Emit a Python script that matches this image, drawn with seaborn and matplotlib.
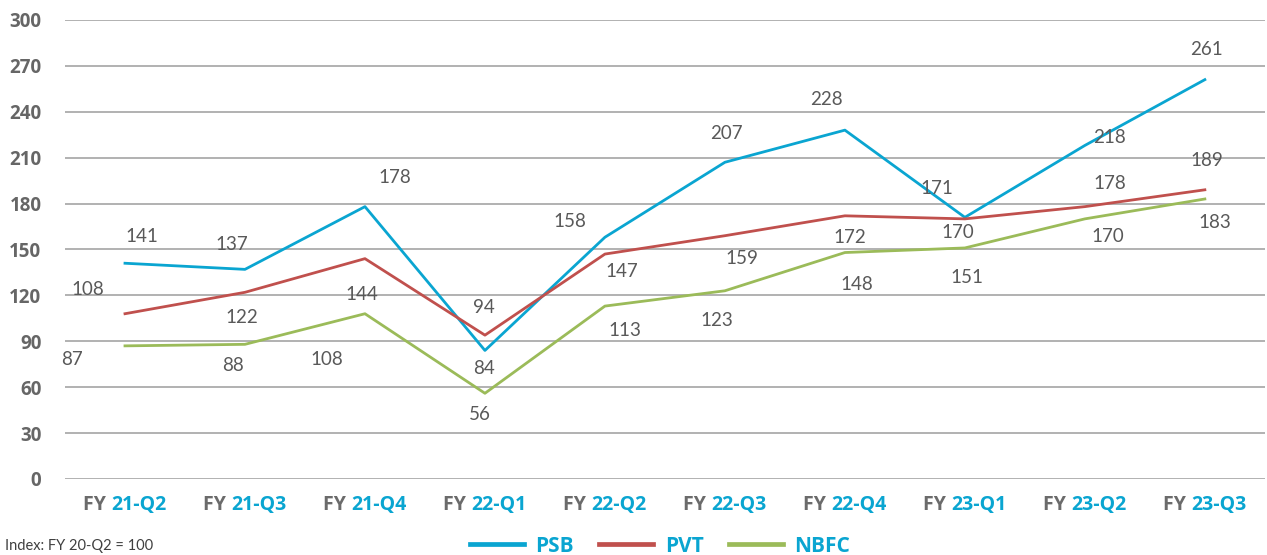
import pandas as pd
import seaborn as sns
import matplotlib.pyplot as plt
from matplotlib.offsetbox import TextArea, HPacker, AnnotationBbox

# ==================== Data ====================

quarters = ["21-Q2", "21-Q3", "21-Q4", "22-Q1", "22-Q2",
            "22-Q3", "22-Q4", "23-Q1", "23-Q2", "23-Q3"]
psb = [141, 137, 178, 84, 158, 207, 228, 171, 218, 261]
pvt = [108, 122, 144, 94, 147, 159, 172, 170, 178, 189]
nbfc = [87, 88, 108, 56, 113, 123, 148, 151, 170, 183]
series_names = ["PSB", "PVT", "NBFC"]

df = pd.DataFrame({"quarter": quarters * 3,
                   "value": psb + pvt + nbfc,
                   "segment": [s for s in series_names for _ in quarters]})

# label offsets in pixels (dx, dy) - mimic Excel placement
offsets = {
    "PSB": [(17, 27), (-13, 25), (30, 29), (-1, -18), (-35, 16),
            (2, 29), (-18, 31), (-28, 29), (25, 8), (2, 30)],
    "PVT": [(-37, 24), (-3, -25), (-3, -36), (-1, 28), (17, -17),
            (17, -23), (5, -22), (-7, -14), (25, 23), (2, 29)],
    "NBFC": [(-53, -14), (-12, -21), (-38, -46), (-5, -21), (20, -24),
             (-8, -30), (12, -32), (2, -30), (23, -18), (10, -24)],
}

colors = {"PSB": "#0AA5D1", "PVT": "#C0504D", "NBFC": "#9BBB59"}
grey = "#595959"
plt.rcParams["font.family"] = ["Lato", "DejaVu Sans"]
bold_font = ["Open Sans", "DejaVu Sans"]

# ==================== Plot ====================

fig = plt.figure(figsize=(12.67, 5.55), dpi=100)
ax = fig.add_axes([0.0513, 0.137, 0.947, 0.827])

sns.lineplot(df, x="quarter", y="value", hue="segment", palette=colors,
             sort=False, linewidth=2.0, ax=ax, legend=True)

ax.set_ylim(0, 300)
ax.set_xlim(-0.5, len(quarters) - 0.5)
ax.set_yticks(range(0, 301, 30))
ax.grid(axis="y", color="#ABABAB", linewidth=1.3)
ax.set_axisbelow(True)
for s in ax.spines.values():
    s.set_visible(False)
ax.set_xlabel("")
ax.set_ylabel("")
ax.tick_params(axis="y", length=0, pad=17, labelsize=13.5, labelcolor="#666666")
for t in ax.get_yticklabels():
    t.set_fontweight("bold")
    t.set_family(bold_font)
ax.tick_params(axis="x", length=0)
ax.set_xticklabels([])

# two-coloured x tick labels
for q in quarters:
    box = HPacker(children=[
        TextArea("FY ", textprops=dict(color="#6B6B6B", fontsize=14, fontweight="bold",
                                       family=bold_font)),
        TextArea(q, textprops=dict(color="#0AA5D1", fontsize=14, fontweight="bold",
                                   family=bold_font)),
    ], pad=0, sep=0, align="baseline")
    ab = AnnotationBbox(box, (q, 0), xybox=(0, -16), xycoords=("data", "axes fraction"),
                        boxcoords="offset pixels", box_alignment=(0.5, 1),
                        frameon=False, annotation_clip=False)
    ax.add_artist(ab)

# data labels
series = {"PSB": psb, "PVT": pvt, "NBFC": nbfc}
for name, vals in series.items():
    for q, v, (dx, dy) in zip(quarters, vals, offsets[name]):
        ax.annotate(str(v), (q, v), xytext=(dx, dy), textcoords="offset pixels",
                    ha="center", va="center", fontsize=13.5, color=grey,
                    annotation_clip=False)

# legend
handles, labels = ax.get_legend_handles_labels()
for h in handles:
    h.set_linewidth(3.4)
leg = fig.legend(handles, labels, loc="center", bbox_to_anchor=(660 / 1267, 1 - 546 / 555),
                 ncol=3, frameon=False, fontsize=15, handlelength=2.6,
                 handletextpad=0.55, columnspacing=1.2)
for t in leg.get_texts():
    t.set_color("#0AA5D1")
    t.set_fontweight("bold")
    t.set_family(bold_font)
ax.get_legend().remove()

fig.text(0.004, 0.003, "Index: FY 20-Q2 = 100", fontsize=10.5,
         color="#404040", va="bottom", ha="left")

plt.savefig("out.png", dpi=100)
